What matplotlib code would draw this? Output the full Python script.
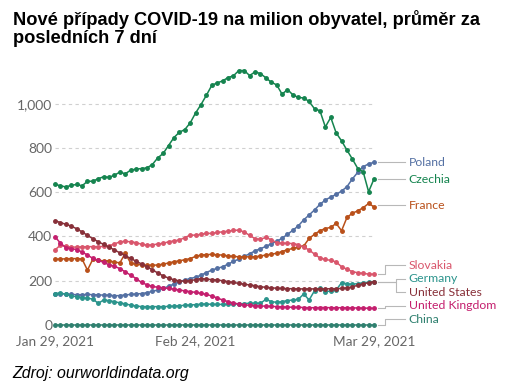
import numpy as np
import pandas as pd
import matplotlib
matplotlib.use("Agg")
import matplotlib.pyplot as plt
import matplotlib.dates as mdates

# data (cases per million, 7-day average)
dates = pd.date_range("2021-01-29", "2021-03-29", freq="D")
tick_dates = ["2021-01-29", "2021-02-24", "2021-03-29"]
tick_labels = ["Jan 29, 2021", "Feb 24, 2021", "Mar 29, 2021"]

czechia = [636, 629, 624, 631, 635, 629, 649, 650, 661, 670, 667, 677, 691, 683, 700,
           704, 707, 710, 725, 755, 775, 811, 847, 871, 883, 913, 958, 996, 1038, 1083,
           1094, 1103, 1118, 1126, 1150, 1150, 1127, 1144, 1136, 1117, 1097, 1085, 1043, 1064, 1040,
           1028, 1026, 1010, 977, 968, 895, 938, 868, 832, 790, 750, 707, 692, 602, 660]
poland = [140, 142, 140, 138, 137, 137, 138, 137, 136, 135, 135, 132, 133, 136, 138,
          140, 142, 146, 152, 158, 165, 175, 185, 196, 203, 210, 216, 225, 237, 248,
          256, 263, 275, 287, 298, 310, 322, 335, 345, 355, 367, 378, 392, 410, 428,
          448, 475, 497, 520, 545, 565, 578, 590, 605, 625, 660, 690, 715, 728, 735]
france = [297, 298, 299, 300, 300, 298, 248, 297, 292, 290, 290, 284, 281, 324, 279,
          275, 271, 270, 270, 271, 275, 280, 286, 290, 295, 300, 310, 316, 318, 319,
          317, 316, 312, 310, 308, 308, 308, 308, 312, 316, 320, 324, 332, 340, 346,
          352, 357, 391, 410, 426, 436, 441, 459, 426, 486, 505, 516, 530, 549, 534]
slovakia = [339, 361, 355, 352, 352, 353, 354, 354, 354, 355, 358, 366, 376, 378, 376,
            372, 365, 361, 362, 366, 369, 376, 380, 384, 395, 406, 406, 410, 414, 414,
            418, 421, 424, 427, 429, 420, 405, 390, 387, 396, 385, 372, 370, 369, 368,
            363, 352, 339, 320, 303, 296, 292, 285, 263, 252, 241, 236, 233, 230, 229]
germany = [142, 145, 138, 131, 128, 123, 121, 117, 98, 113, 110, 105, 100, 95, 90,
           86, 83, 83, 83, 83, 83, 84, 85, 87, 89, 90, 92, 94, 95, 93,
           93, 93, 93, 94, 95, 97, 98, 98, 98, 116, 106, 102, 106, 110, 113,
           116, 140, 113, 155, 165, 150, 154, 158, 191, 186, 184, 187, 191, 193, 196]
united_states = [471, 463, 455, 447, 435, 421, 405, 390, 376, 364, 352, 339, 326, 313, 301,
                 288, 276, 263, 250, 235, 222, 212, 204, 199, 198, 200, 205, 210, 207, 205,
                 203, 200, 196, 192, 188, 184, 181, 177, 173, 170, 168, 166, 165, 164, 164,
                 163, 163, 163, 163, 163, 163, 164, 164, 165, 168, 172, 180, 186, 191, 196]
united_kingdom = [399, 370, 350, 345, 341, 330, 316, 301, 292, 283, 272, 265, 255, 240, 225,
                  210, 192, 182, 175, 170, 168, 165, 162, 158, 154, 151, 147, 143, 138, 131,
                  122, 113, 106, 99, 95, 91, 89, 87, 86, 85, 84, 83, 82, 81, 80,
                  80, 79, 78, 78, 79, 79, 78, 78, 78, 78, 77, 77, 76, 76, 75]
china = [0.4] * 60

names = ["Poland", "Czechia", "France", "Slovakia", "Germany",
         "United States", "United Kingdom", "China"]
values = [poland, czechia, france, slovakia, germany, united_states, united_kingdom, china]
colors = ["#5470a3", "#15844f", "#b9501a", "#d9566c", "#2b948c",
          "#883039", "#c41f6e", "#2f806f"]
label_y = [735, 658, 542, 271, 208, 148, 87, 26]

fig = plt.figure(figsize=(5.05, 3.9), dpi=100)
ax = fig.add_axes([0.1089, 0.1667, 0.6317, 0.6582])

for name, vals, col in zip(names, values, colors):
    ax.plot(dates, vals, color=col, lw=1.1, marker="o", ms=2.5,
            clip_on=False, zorder=3)

ax.set_xlim(dates[0], dates[-1])
ax.set_ylim(0, 1160)
ax.set_yticks([0, 200, 400, 600, 800, 1000])
ax.set_yticklabels(["0", "200", "400", "600", "800", "1,000"])
ax.set_xticks(pd.to_datetime(tick_dates))
ax.set_xticklabels(tick_labels)
ax.grid(axis="y", color="#d0d0d0", ls=(0, (3, 3)), lw=0.8)
ax.grid(axis="x", visible=False)
for s in ax.spines.values():
    s.set_visible(False)
ax.tick_params(axis="y", length=0, pad=2, labelsize=10, labelcolor="#666666")
ax.tick_params(axis="x", length=0, pad=7, labelsize=9.8, labelcolor="#666666")
for t in ax.get_xticklabels() + ax.get_yticklabels():
    t.set_family("Lato")

# connectors + series labels on the right
xe = mdates.date2num(dates[-1])
gray = "#b8b8b8"
for name, vals, col, ly in zip(names, values, colors, label_y):
    yend = vals[-1]
    if name in ("Poland", "Czechia", "France"):
        xs, ys = [xe + 0.7, xe + 5.7], [ly, ly]
    elif name in ("Germany", "United States"):
        xs = [xe + 0.7, xe + 4.1, xe + 4.1, xe + 5.7]
        ys = [yend, yend, ly, ly]
    else:
        xs = [xe + 0.7, xe + 2.0, xe + 2.0, xe + 5.7]
        ys = [yend, yend, ly, ly]
    ax.plot(xs, ys, color=gray, lw=0.8, clip_on=False, zorder=1)
    ax.text(xe + 6.4, ly, name, color=col, fontsize=8.8, va="center",
            ha="left", family="Lato", clip_on=False)

fig.text(13 / 505, 1 - 25 / 390, "Nové případy COVID-19 na milion obyvatel, průměr za",
         fontsize=13.15, fontweight="bold", family="Liberation Sans", va="baseline")
fig.text(13 / 505, 1 - 43 / 390, "posledních 7 dní",
         fontsize=13.15, fontweight="bold", family="Liberation Sans", va="baseline")
fig.text(12 / 505, 1 - 378 / 390, "Zdroj: ourworldindata.org", fontsize=11.4,
         style="italic", family="Liberation Sans", va="baseline")

fig.savefig("out.png", dpi=100)
